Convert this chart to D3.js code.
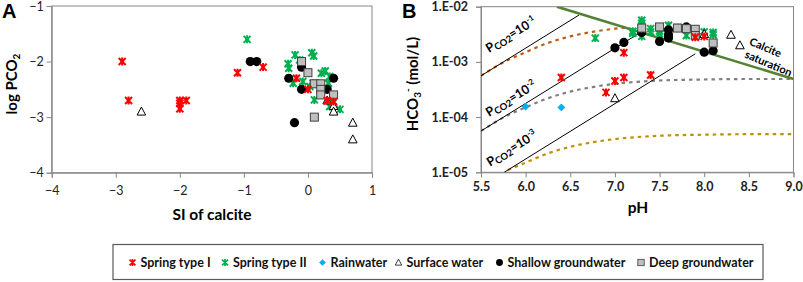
<!DOCTYPE html>
<html>
<head>
<meta charset="utf-8">
<script src="https://cdn.jsdelivr.net/npm/d3@7"></script>
<style>
  body { margin: 0; background: #fff; }
  svg { display: block; }
</style>
</head>
<body>
<script>
// ---- panel A data: [SI of calcite, log PCO2]
const aSpringI = [[-2.9, -2.0], [-2.8, -2.7], [-2.0, -2.7], [-1.9, -2.7], [-2.0, -2.75], [-2.0, -2.85],
  [-1.1, -2.2], [-0.7, -2.1], [-0.18, -2.3], [0.0, -2.5], [0.3, -2.7], [0.4, -2.72]];
const aSpringII = [[-0.95, -1.6], [-0.2, -1.88], [0.06, -1.84], [0.09, -1.9], [-0.31, -2.04], [-0.3, -2.12],
  [-0.13, -1.97], [-0.23, -2.39], [0.08, -2.39], [0.21, -2.21], [0.27, -2.17], [0.34, -2.27],
  [0.1, -2.69], [0.34, -2.81], [0.5, -2.86], [0.39, -2.75], [-0.08, -2.36], [0.03, -2.45], [0.32, -2.39]];
const aSurface = [[-2.6, -2.9], [0.3, -2.7], [0.4, -2.8], [0.4, -2.9], [0.7, -3.1], [0.7, -3.4]];
const aShallow = [[-0.9, -2.0], [-0.8, -2.0], [-0.3, -2.3], [-0.1, -2.1], [-0.1, -2.5], [0.4, -2.3],
  [0.3, -2.5], [-0.21, -3.1]];
const aDeep = [[-0.1, -2.0], [0.0, -2.2], [0.1, -2.4], [0.2, -2.4], [0.2, -2.5], [0.2, -2.6], [0.4, -2.6], [0.1, -3.0]];
const aXTicks = [-4, -3, -2, -1, 0, 1];
const aYTicks = [-1, -2, -3, -4];

// ---- panel B data: [pH, HCO3 mol/L]
const bSpringI = [[6.4, 5.2e-4], [6.9, 2.8e-4], [7.0, 4.5e-4], [7.1, 5.2e-4], [7.1, 1.47e-3], [7.4, 5.8e-4],
  [7.9, 2.8e-3], [8.0, 2.9e-3]];
const bSpringII = [[6.78, 2.7e-3], [7.2, 3.3e-3], [7.2, 3.6e-3], [7.3, 5.7e-3], [7.3, 5.0e-3], [7.3, 2.9e-3],
  [7.4, 3.5e-3], [7.4, 4.0e-3], [7.5, 3.2e-3], [7.5, 3.6e-3], [7.6, 4.6e-3], [7.6, 3.5e-3], [7.7, 4.2e-3],
  [7.8, 3.0e-3], [7.9, 3.3e-3], [8.0, 3.5e-3], [8.1, 3.1e-3], [8.1, 3.4e-3]];
const bRain = [[6.0, 1.55e-4], [6.4, 1.5e-4]];
const bSurface = [[7.0, 2.2e-4], [8.0, 3.2e-3], [8.3, 3.1e-3], [8.4, 2.0e-3]];
const bShallow = [[7.0, 1.8e-3], [7.1, 2.25e-3], [7.3, 3.4e-3], [7.5, 2.35e-3], [7.6, 3.8e-3], [7.6, 3.1e-3],
  [7.6, 2.7e-3], [7.8, 4.3e-3], [8.0, 1.5e-3], [8.1, 1.6e-3]];
const bDeep = [[7.3, 4.1e-3], [7.5, 4.3e-3], [7.7, 4.1e-3], [7.8, 4.0e-3], [7.9, 3.9e-3], [7.9, 3.0e-3], [8.1, 2.2e-3]];
const bXTicks = [5.5, 6.0, 6.5, 7.0, 7.5, 8.0, 8.5, 9.0];
const bYTicks = [1e-2, 1e-3, 1e-4, 1e-5];

// reference lines in panel B
const calciteLine = [[6.35, 1.0e-2], [9.0, 4.9e-4]];
const pco2Lines = [
  { exp: "-1", pts: [[5.5, 5.6e-4], [6.6, 7.1e-3]], label: [5.59, 1.45e-3] },
  { exp: "-2", pts: [[5.5, 5.6e-5], [7.35, 3.95e-3]], label: [5.59, 1.0e-4] },
  { exp: "-3", pts: [[5.76, 1.0e-5], [7.9, 1.4e-3]], label: [5.6, 1.26e-5] },
];
const curveHigh = [[5.5, 5.6e-4], [5.75, 9.8e-4], [6.0, 1.5e-3], [6.25, 2.2e-3], [6.5, 2.9e-3],
  [6.75, 3.5e-3], [7.0, 4.0e-3], [7.12, 4.2e-3]];
const curveMid = [[5.5, 5.6e-5], [5.75, 9.8e-5], [6.0, 1.5e-4], [6.25, 2.2e-4], [6.5, 2.9e-4], [6.75, 3.5e-4],
  [7.0, 4.0e-4], [7.25, 4.35e-4], [7.5, 4.6e-4], [8.0, 4.8e-4], [8.5, 4.9e-4], [9.0, 4.9e-4]];
const curveLow = [[5.8, 1.1e-5], [6.0, 1.5e-5], [6.25, 2.2e-5], [6.5, 2.9e-5], [6.75, 3.5e-5], [7.0, 4.0e-5],
  [7.25, 4.35e-5], [7.5, 4.6e-5], [8.0, 4.8e-5], [8.5, 4.9e-5], [9.0, 4.9e-5]];

const legendItems = ["Spring type I", "Spring type II", "Rainwater", "Surface water", "Shallow groundwater", "Deep groundwater"];

const FONT = "Lato, 'Open Sans', sans-serif";
const axisColor = "#868686";

const svg = d3.select("body").append("svg").attr("width", 803).attr("height", 282)
  .attr("font-family", FONT);

// marker painters
const star = (g, color) => {
  g.append("path").attr("d", "M-3.5,-3.5L3.5,3.5M-3.5,3.5L3.5,-3.5M0,-4L0,4M-2,0L2,0")
    .attr("stroke", color).attr("stroke-width", 2).attr("fill", "none");
};
const painters = {
  springI: (g) => star(g, "#ff0000"),
  springII: (g) => star(g, "#00b050"),
  rain: (g) => g.append("path").attr("d", d3.symbol(d3.symbolDiamond2, 40)()).attr("fill", "#00b0f0"),
  surface: (g) => g.append("path").attr("d", "M0,-4.5L4.3,3.5L-4.3,3.5Z")
    .attr("fill", "#fff").attr("stroke", "#000").attr("stroke-width", 1),
  shallow: (g) => g.append("circle").attr("r", 4.6).attr("fill", "#000"),
  deep: (g) => g.append("rect").attr("x", -4).attr("y", -4).attr("width", 8).attr("height", 8)
    .attr("fill", "#bfbfbf").attr("stroke", "#404040").attr("stroke-width", 1),
};

function drawPoints(layer, data, x, y, kind) {
  layer.append("g").selectAll("g").data(data).join("g")
    .attr("transform", (d) => `translate(${x(d[0])},${y(d[1])})`)
    .each(function () { painters[kind](d3.select(this)); });
}

function frame(g, x0, x1, y0, y1) {
  g.append("rect").attr("x", x0).attr("y", y0).attr("width", x1 - x0).attr("height", y1 - y0)
    .attr("fill", "none").attr("stroke", axisColor).attr("stroke-width", 1);
}

function styleAxis(sel, bold) {
  sel.select(".domain").attr("stroke", axisColor);
  sel.selectAll(".tick line").attr("stroke", axisColor);
  sel.selectAll("text").attr("font-family", FONT).attr("font-size", 12.5)
    .attr("font-weight", bold ? "bold" : "normal").attr("fill", "#222");
}

// ================= Panel A =================
const ax = d3.scaleLinear().domain([-4, 1]).range([51.7, 372]);
const ay = d3.scaleLinear().domain([-1, -4]).range([6, 172.7]);
const gA = svg.append("g");
frame(gA, 51.7, 372, 6, 172.7);
gA.append("g").attr("transform", "translate(0,172.7)")
  .call(d3.axisBottom(ax).tickValues(aXTicks).tickSize(5).tickPadding(8).tickFormat(d3.format("d")))
  .call((s) => styleAxis(s, false));
gA.append("g").attr("transform", "translate(51.7,0)")
  .call(d3.axisLeft(ay).tickValues(aYTicks).tickSize(5).tickPadding(3).tickFormat(d3.format("d")))
  .call((s) => styleAxis(s, false));

const ptsA = gA.append("g");
drawPoints(ptsA, aSpringII, ax, ay, "springII");
drawPoints(ptsA, aSurface, ax, ay, "surface");
drawPoints(ptsA, aShallow, ax, ay, "shallow");
drawPoints(ptsA, aDeep, ax, ay, "deep");
drawPoints(ptsA, aSpringI, ax, ay, "springI");

svg.append("text").attr("x", 2).attr("y", 18).attr("font-size", 20).attr("font-weight", "bold")
  .attr("font-family", "Arial, 'Liberation Sans', sans-serif").text("A");
svg.append("text").attr("x", 212).attr("y", 220).attr("text-anchor", "middle")
  .attr("font-size", 15.5).attr("font-weight", "bold").text("SI of calcite");
const aYt = svg.append("text").attr("transform", "translate(17,84) rotate(-90)").attr("text-anchor", "middle")
  .attr("font-size", 15).attr("font-weight", "bold");
aYt.append("tspan").text("log PCO");
aYt.append("tspan").attr("font-size", 10).attr("dy", 3).text("2");

// ================= Panel B =================
const bx = d3.scaleLinear().domain([5.5, 9.0]).range([481, 793.5]);
const by = d3.scaleLog().domain([1e-2, 1e-5]).range([6.7, 172.3]);
const gB = svg.append("g");
frame(gB, 481, 793.5, 6.7, 172.3);
gB.append("g").attr("transform", "translate(0,172.3)")
  .call(d3.axisBottom(bx).tickValues(bXTicks).tickSize(5).tickPadding(5).tickFormat(d3.format(".1f")))
  .call((s) => styleAxis(s, true));
gB.append("g").attr("transform", "translate(481,0)")
  .call(d3.axisLeft(by).tickValues(bYTicks).tickSize(5).tickPadding(8)
    .tickFormat((d) => "1.E-" + String(Math.round(-Math.log10(d))).padStart(2, "0")))
  .call((s) => styleAxis(s, true));

svg.append("clipPath").attr("id", "clipB").append("rect")
  .attr("x", 481).attr("y", 6.7).attr("width", 312.5).attr("height", 165.6);
const lineB = d3.line().x((d) => bx(d[0])).y((d) => by(d[1]));
const curveB = d3.line().x((d) => bx(d[0])).y((d) => by(d[1])).curve(d3.curveMonotoneX);
const linesB = gB.append("g").attr("clip-path", "url(#clipB)");

const dotted = [[curveHigh, "#c55a11"], [curveMid, "#7f7f7f"], [curveLow, "#bf9000"]];
dotted.forEach(([data, color]) => {
  linesB.append("path").datum(data).attr("d", curveB).attr("fill", "none")
    .attr("stroke", color).attr("stroke-width", 2.2).attr("stroke-dasharray", "3.5,4");
});
pco2Lines.forEach((l) => {
  linesB.append("path").datum(l.pts).attr("d", lineB).attr("fill", "none")
    .attr("stroke", "#000").attr("stroke-width", 1);
});
linesB.append("path").datum(calciteLine).attr("d", lineB).attr("fill", "none")
  .attr("stroke", "#548235").attr("stroke-width", 2.6);

// line labels
const slopeAngle = -Math.atan((by(1e-3) - by(1e-2)) / (bx(6.5) - bx(5.5))) * 180 / Math.PI;
pco2Lines.forEach((l) => {
  const t = gB.append("text")
    .attr("transform", `translate(${bx(l.label[0])},${by(l.label[1])}) rotate(${slopeAngle})`)
    .attr("font-size", 12.5).attr("font-weight", "bold");
  t.append("tspan").text("P");
  t.append("tspan").attr("font-size", 9.5).attr("dy", 2).text("CO2");
  t.append("tspan").attr("dy", -2).text("=10");
  t.append("tspan").attr("font-size", 8).attr("dy", -5).text(l.exp);
});
const calAngle = 23;
gB.append("text").attr("transform", `translate(764,51) rotate(${calAngle})`).attr("text-anchor", "middle")
  .attr("font-size", 11).attr("font-weight", "bold").text("Calcite");
gB.append("text").attr("transform", `translate(767,67) rotate(${calAngle})`).attr("text-anchor", "middle")
  .attr("font-size", 11).attr("font-weight", "bold").text("saturation");

const ptsB = gB.append("g");
drawPoints(ptsB, bSpringII, bx, by, "springII");
drawPoints(ptsB, bRain, bx, by, "rain");
drawPoints(ptsB, bSurface, bx, by, "surface");
drawPoints(ptsB, bShallow, bx, by, "shallow");
drawPoints(ptsB, bDeep, bx, by, "deep");
drawPoints(ptsB, bSpringI, bx, by, "springI");

svg.append("text").attr("x", 402).attr("y", 18).attr("font-size", 20).attr("font-weight", "bold")
  .attr("font-family", "Arial, 'Liberation Sans', sans-serif").text("B");
svg.append("text").attr("x", 638).attr("y", 213).attr("text-anchor", "middle")
  .attr("font-size", 15.5).attr("font-weight", "bold").text("pH");
const bYt = svg.append("text").attr("transform", "translate(418,84) rotate(-90)").attr("text-anchor", "middle")
  .attr("font-size", 15).attr("font-weight", "bold");
bYt.append("tspan").text("HCO");
bYt.append("tspan").attr("font-size", 10).attr("dy", 3).text("3");
bYt.append("tspan").attr("font-size", 10).attr("dy", -10).text("-");
bYt.append("tspan").attr("dy", 7).text(" (mol/L)");

// ================= Legend =================
const legend = svg.append("g");
legend.append("rect").attr("x", 113).attr("y", 244.5).attr("width", 650).attr("height", 35)
  .attr("fill", "#fff").attr("stroke", "#595959").attr("stroke-width", 1.2);
const legendX = [132.5, 225, 322.5, 398.5, 499.5, 641];
const kinds = ["springI", "springII", "rain", "surface", "shallow", "deep"];
const legendScale = [0.85, 0.85, 0.85, 0.75, 0.75, 0.8];
legendItems.forEach((name, i) => {
  const g = legend.append("g").attr("transform", `translate(${legendX[i]},262.5)`);
  const m = g.append("g").attr("transform", `scale(${legendScale[i]})`);
  painters[kinds[i]](m);
  g.append("text").attr("x", 8).attr("y", 4.5).attr("font-size", 12.5).attr("font-weight", "bold")
    .attr("fill", "#111").text(name);
});
</script>
</body>
</html>
